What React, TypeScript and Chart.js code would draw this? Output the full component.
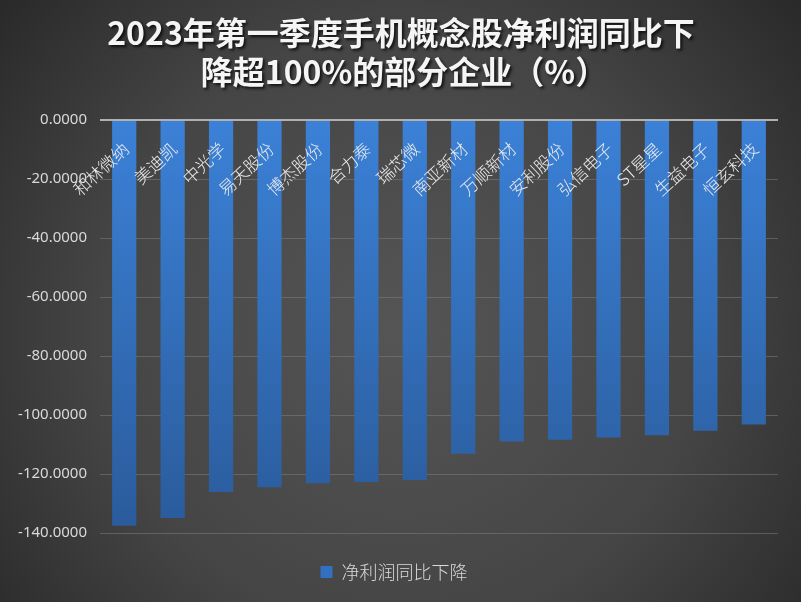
import React, { useEffect, useRef } from 'react';
import { Chart, registerables } from 'chart.js';

Chart.register(...registerables);

const categories = ['和林微纳', '美迪凯', '中光学', '易天股份', '博杰股份', '合力泰', '瑞芯微', '南亚新材', '万顺新材', '安利股份', '弘信电子', 'ST星星', '生益电子', '恒玄科技'];
const values = [-137.5, -134.9, -126.1, -124.5, -123.1, -122.7, -122.0, -113.1, -109.0, -108.4, -107.6, -106.9, -105.3, -103.2];
const seriesName = '净利润同比下降';
const titleLines = ['2023年第一季度手机概念股净利润同比下', '降超100%的部分企业（%）'];
const yMin = -140;
const yMax = 0;
const yStep = 20;

const CJK = '"Noto Sans CJK SC", "Noto Sans", sans-serif';

const bgPlugin = {
  id: 'bgPlugin',
  beforeDraw(chart: any) {
    const { ctx, width, height } = chart;
    ctx.save();
    const g = ctx.createRadialGradient(width * 0.5, height * 0.55, 0, width * 0.5, height * 0.55, width * 0.68);
    g.addColorStop(0, '#555555');
    g.addColorStop(0.55, '#454545');
    g.addColorStop(1, '#262626');
    ctx.fillStyle = g;
    ctx.fillRect(0, 0, width, height);
    ctx.restore();
  },
};

const titlePlugin = {
  id: 'titlePlugin',
  afterDraw(chart: any) {
    const { ctx } = chart;
    ctx.save();
    ctx.font = `bold 32px ${CJK}`;
    ctx.textAlign = 'center';
    ctx.textBaseline = 'middle';
    ctx.shadowColor = 'rgba(0,0,0,0.75)';
    ctx.shadowOffsetX = 2;
    ctx.shadowOffsetY = 2;
    ctx.shadowBlur = 3;
    ctx.fillStyle = '#f5f5f5';
    ctx.fillText(titleLines[0], 401, 33);
    ctx.fillText(titleLines[1], 404, 72);
    ctx.restore();
  },
};

const catLabelPlugin = {
  id: 'catLabelPlugin',
  afterDatasetsDraw(chart: any) {
    const { ctx } = chart;
    const xs = chart.scales.x;
    const ys = chart.scales.y;
    const y0 = ys.getPixelForValue(0);
    ctx.save();
    ctx.font = `300 17px ${CJK}`;
    ctx.fillStyle = '#ececec';
    ctx.textAlign = 'right';
    ctx.textBaseline = 'middle';
    categories.forEach((c, i) => {
      const x = xs.getPixelForValue(i);
      ctx.save();
      ctx.translate(x + 1.5, y0 + 26);
      ctx.rotate((-43 * Math.PI) / 180);
      ctx.fillText(c, 0, 0);
      ctx.restore();
    });
    ctx.restore();
  },
};

export default function App() {
  const ref = useRef<HTMLCanvasElement | null>(null);
  useEffect(() => {
    document.body.style.margin = '0';
    const canvas = ref.current;
    if (!canvas) return;
    const chart = new Chart(canvas, {
      type: 'bar',
      data: {
        labels: categories,
        datasets: [
          {
            label: seriesName,
            data: values,
            backgroundColor: (c: any) => {
              const a = c.chart.chartArea;
              if (!a) return '#3572c2';
              const g = c.chart.ctx.createLinearGradient(0, a.top, 0, a.bottom);
              g.addColorStop(0, '#3b81d7');
              g.addColorStop(1, '#2a5b9b');
              return g;
            },
            borderWidth: 0,
            categoryPercentage: 1,
            barPercentage: 0.5,
          },
        ],
      },
      options: {
        responsive: false,
        animation: false,
        layout: { padding: { top: 120, left: 10, right: 23, bottom: 11 } },
        scales: {
          x: {
            display: true,
            ticks: { display: false },
            grid: { display: false },
            border: { display: false },
            afterFit: (s: any) => {
              s.height = 20;
            },
          },
          y: {
            min: yMin,
            max: yMax,
            ticks: {
              stepSize: yStep,
              color: '#d9d9d9',
              font: { size: 15, family: '"Noto Sans", sans-serif' },
              padding: 13,
              callback: (v: any) => Number(v).toFixed(4),
            },
            grid: {
              color: (c: any) => (c.tick && c.tick.value === 0 ? '#b0b0b0' : 'rgba(130,130,130,0.5)'),
              lineWidth: (c: any) => (c.tick && c.tick.value === 0 ? 2 : 1),
              drawTicks: false,
            },
            border: { display: false },
            afterFit: (s: any) => {
              s.width = 90;
            },
          },
        },
        plugins: {
          title: { display: false },
          tooltip: { enabled: false },
          legend: {
            display: true,
            position: 'bottom',
            labels: {
              color: '#d9d9d9',
              font: { size: 18, family: CJK, weight: '300' },
              boxWidth: 12,
              boxHeight: 12,
              padding: 10,
              generateLabels: () => [
                {
                  text: seriesName,
                  fillStyle: '#3370c2',
                  strokeStyle: '#3370c2',
                  lineWidth: 0,
                  hidden: false,
                  datasetIndex: 0,
                  fontColor: '#d9d9d9',
                },
              ],
            },
          },
        },
      },
      plugins: [bgPlugin, titlePlugin, catLabelPlugin],
    } as any);
    return () => chart.destroy();
  }, []);
  return (
    <div style={{ width: 801, height: 602 }}>
      <canvas ref={ref} width={801} height={602} style={{ width: 801, height: 602, display: 'block' }} />
    </div>
  );
}
